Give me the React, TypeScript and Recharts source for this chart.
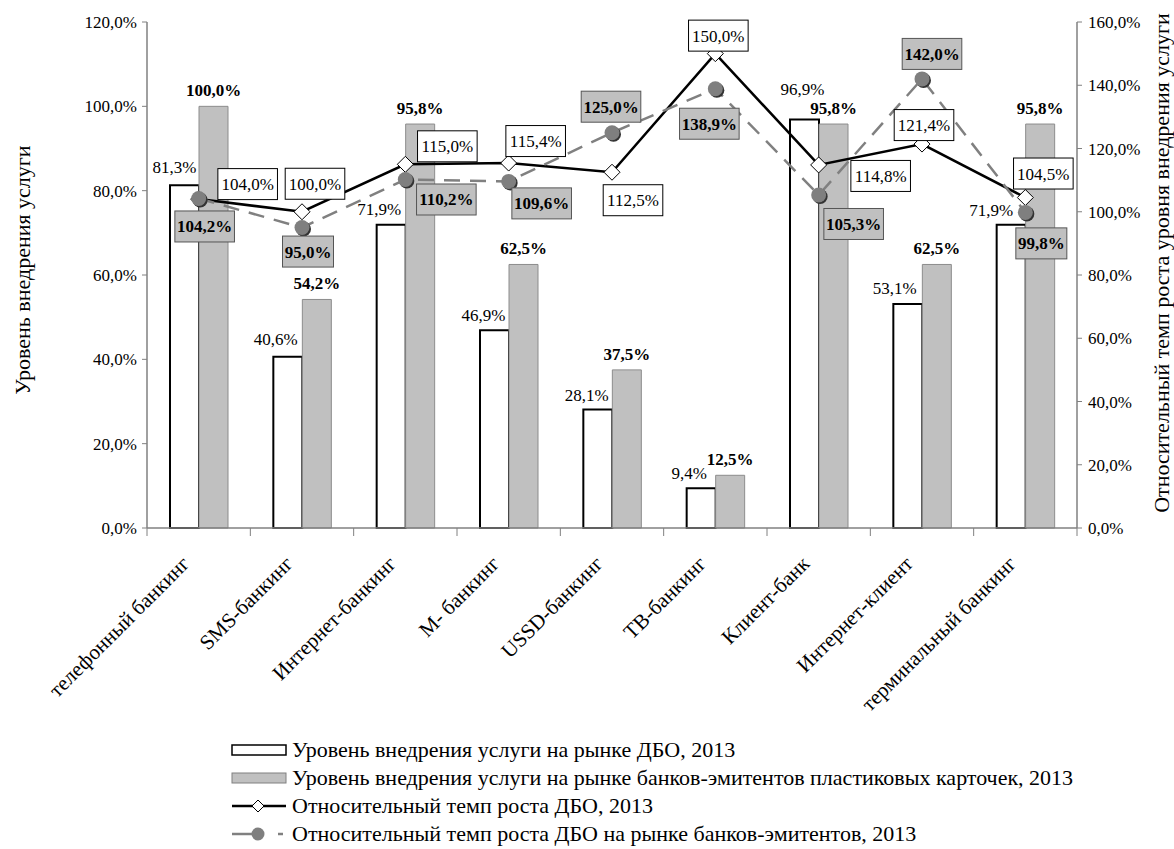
import React from 'react';
import { ComposedChart, Bar, Line, XAxis, YAxis, LabelList } from 'recharts';

const categories = [
  'телефонный банкинг',
  'SMS-банкинг',
  'Интернет-банкинг',
  'М- банкинг',
  'USSD-банкинг',
  'ТВ-банкинг',
  'Клиент-банк',
  'Интернет-клиент',
  'терминальный банкинг',
];
const marketLevel = [81.3, 40.6, 71.9, 46.9, 28.1, 9.4, 96.9, 53.1, 71.9];
const issuerLevel = [100.0, 54.2, 95.8, 62.5, 37.5, 12.5, 95.8, 62.5, 95.8];
const marketGrowth = [104.0, 100.0, 115.0, 115.4, 112.5, 150.0, 114.8, 121.4, 104.5];
const issuerGrowth = [104.2, 95.0, 110.2, 109.6, 125.0, 138.9, 105.3, 142.0, 99.8];
const leftTicks = [0, 20, 40, 60, 80, 100, 120];
const rightTicks = [0, 20, 40, 60, 80, 100, 120, 140, 160];

// label placement (dx, dy) relative to the mark
const marketLabelPos = [
  [-10, -12], [-12, -12], [-12, -10], [-11, -9], [-11, -9], [-12, -9], [-2, -24], [-13, -10], [-20, -9],
];
const marketGrowthLabelPos = [
  [49, -15], [13, -28], [42, -18], [27, -22], [21, 28], [3, -18], [62, 11], [2, -19], [18, -24],
];
const issuerGrowthLabelPos = [
  [6, 28], [6, 24], [41, 20], [33, 22], [-1, -26], [-6, 35], [35, 29], [10, -25], [16, 31],
];

const data = categories.map((name, i) => ({
  name,
  market: marketLevel[i],
  issuer: issuerLevel[i],
  marketGrowth: marketGrowth[i],
  issuerGrowth: issuerGrowth[i],
}));

const FONT = 'Liberation Serif, serif';
const W = 1174;
const H = 849;
const PLOT_LEFT = 147;
const PLOT_RIGHT = 1077;
const PLOT_TOP = 22;
const PLOT_BOTTOM = 528;
const BAND = (PLOT_RIGHT - PLOT_LEFT) / categories.length;

const pct = (v: number) => v.toFixed(1).replace('.', ',') + '%';

const XTick = (props: any) => {
  const { x, y, payload, index } = props;
  const left = x - BAND / 2;
  const ax = x - 8;
  const ay = y + 37;
  return (
    <g>
      <line x1={left} y1={y} x2={left} y2={y + 8} stroke="#808080" />
      {index === categories.length - 1 && (
        <line x1={x + BAND / 2} y1={y} x2={x + BAND / 2} y2={y + 8} stroke="#808080" />
      )}
      <text
        x={ax}
        y={ay}
        textAnchor="end"
        transform={`rotate(-45, ${ax}, ${ay})`}
        style={{ fontFamily: FONT }}
        fontSize={21}
        fill="#000"
      >
        {payload.value}
      </text>
    </g>
  );
};

const Diamond = (props: any) => {
  const { cx, cy } = props;
  if (cx == null || cy == null) return null;
  const s = 8;
  return (
    <polygon
      points={`${cx},${cy - s} ${cx + s},${cy} ${cx},${cy + s} ${cx - s},${cy}`}
      fill="#fff"
      stroke="#000"
      strokeWidth={1}
    />
  );
};

const GrayDot = (props: any) => {
  const { cx, cy } = props;
  if (cx == null || cy == null) return null;
  return (
    <g>
      <circle cx={cx + 1.5} cy={cy + 1.5} r={7.5} fill="#333" />
      <circle cx={cx} cy={cy} r={7.5} fill="#7f7f7f" />
    </g>
  );
};

const boxLabel = (positions: number[][], gray: boolean) => (props: any) => {
  const { x, y, value, index } = props;
  const [dx, dy] = positions[index];
  const text = pct(value);
  const w = text.length * 8.6 + 8;
  const h = 31;
  const cx = x + dx;
  const cy = y + dy;
  return (
    <g>
      <rect
        x={cx - w / 2}
        y={cy - h / 2}
        width={w}
        height={h}
        fill={gray ? '#c0c0c0' : '#fff'}
        stroke={gray ? '#555' : '#000'}
        strokeWidth={1}
      />
      <text
        x={cx}
        y={cy + 6}
        textAnchor="middle"
        style={{ fontFamily: FONT }}
        fontSize={17}
        fontWeight={gray ? 'bold' : 'normal'}
        fill="#000"
      >
        {text}
      </text>
    </g>
  );
};

const barLabel = (bold: boolean, positions: number[][] | null) => (props: any) => {
  const { x, y, width, value, index } = props;
  const [dx, dy] = positions ? positions[index] : [0, -10];
  return (
    <text
      x={x + width / 2 + dx}
      y={y + dy}
      textAnchor="middle"
      style={{ fontFamily: FONT }}
      fontSize={17}
      fontWeight={bold ? 'bold' : 'normal'}
      fill="#000"
    >
      {pct(value)}
    </text>
  );
};

const legendItems = [
  { kind: 'white', text: 'Уровень внедрения услуги на рынке ДБО, 2013' },
  { kind: 'gray', text: 'Уровень внедрения услуги на рынке банков-эмитентов пластиковых карточек, 2013' },
  { kind: 'black', text: 'Относительный темп роста ДБО, 2013' },
  { kind: 'dash', text: 'Относительный темп роста ДБО на рынке банков-эмитентов, 2013' },
];

const Overlay = () => (
  <svg
    width={W}
    height={H}
    style={{ position: 'absolute', left: 0, top: 0, pointerEvents: 'none', fontFamily: FONT }}
  >
    <text
      x={30}
      y={270}
      textAnchor="middle"
      transform="rotate(-90, 30, 270)"
      fontSize={22}
      fill="#000"
    >
      Уровень внедрения услуги
    </text>
    <text
      x={1169}
      y={263}
      textAnchor="middle"
      transform="rotate(-90, 1169, 263)"
      fontSize={22}
      fill="#000"
    >
      Относительный темп роста уровня внедрения услуги
    </text>
    {legendItems.map((item, i) => {
      const cy = 750 + i * 28;
      return (
        <g key={item.kind}>
          {item.kind === 'white' && (
            <rect x={232} y={cy - 5} width={54} height={10} fill="#fff" stroke="#000" strokeWidth={1.5} />
          )}
          {item.kind === 'gray' && (
            <rect x={232} y={cy - 5} width={54} height={10} fill="#c0c0c0" stroke="#808080" strokeWidth={1} />
          )}
          {item.kind === 'black' && (
            <g>
              <line x1={232} y1={cy} x2={286} y2={cy} stroke="#000" strokeWidth={2.5} />
              <polygon
                points={`258,${cy - 6} 264,${cy} 258,${cy + 6} 252,${cy}`}
                fill="#fff"
                stroke="#000"
              />
            </g>
          )}
          {item.kind === 'dash' && (
            <g>
              <line x1={232} y1={cy} x2={252} y2={cy} stroke="#808080" strokeWidth={2.5} />
              <circle cx={258} cy={cy} r={6.5} fill="#7f7f7f" />
              <line x1={278} y1={cy} x2={283} y2={cy} stroke="#808080" strokeWidth={2.5} />
            </g>
          )}
          <text x={292} y={cy + 7} fontSize={22} fill="#000">
            {item.text}
          </text>
        </g>
      );
    })}
  </svg>
);

export default function App() {
  return (
    <div style={{ position: 'absolute', left: 0, top: 0, width: W, height: H, background: '#fff', fontFamily: FONT }}>
      <ComposedChart
        width={W}
        height={H}
        data={data}
        margin={{ top: PLOT_TOP, left: PLOT_LEFT - 80, right: W - PLOT_RIGHT - 80, bottom: H - PLOT_BOTTOM - 200 }}
        barGap={0}
        style={{ fontFamily: FONT }}
      >
        <XAxis
          dataKey="name"
          height={200}
          interval={0}
          tickLine={false}
          tickSize={0}
          tickMargin={0}
          tick={<XTick />}
          axisLine={{ stroke: '#808080', strokeWidth: 1.5 }}
        />
        <YAxis
          yAxisId="left"
          width={80}
          domain={[0, 120]}
          ticks={leftTicks}
          tickFormatter={pct}
          tickSize={5}
          tickMargin={5}
          axisLine={{ stroke: '#808080', strokeWidth: 1.5 }}
          tickLine={{ stroke: '#808080' }}
          tick={{ fontFamily: FONT, fontSize: 17, fill: '#000' }}
        />
        <YAxis
          yAxisId="right"
          orientation="right"
          width={80}
          domain={[0, 160]}
          ticks={rightTicks}
          tickFormatter={pct}
          tickSize={5}
          tickMargin={6}
          axisLine={{ stroke: '#808080', strokeWidth: 1.5 }}
          tickLine={{ stroke: '#808080' }}
          tick={{ fontFamily: FONT, fontSize: 17, fill: '#000' }}
        />
        <Bar
          yAxisId="left"
          dataKey="market"
          barSize={29}
          fill="#fff"
          stroke="#000"
          strokeWidth={2}
          isAnimationActive={false}
        >
          <LabelList dataKey="market" content={barLabel(false, marketLabelPos)} />
        </Bar>
        <Bar
          yAxisId="left"
          dataKey="issuer"
          barSize={29}
          fill="#c0c0c0"
          stroke="#8c8c8c"
          strokeWidth={1}
          isAnimationActive={false}
        >
          <LabelList dataKey="issuer" content={barLabel(true, null)} />
        </Bar>
        <Line
          yAxisId="right"
          dataKey="marketGrowth"
          stroke="#000"
          strokeWidth={2.5}
          dot={<Diamond />}
          activeDot={false}
          isAnimationActive={false}
        >
          <LabelList dataKey="marketGrowth" content={boxLabel(marketGrowthLabelPos, false)} />
        </Line>
        <Line
          yAxisId="right"
          dataKey="issuerGrowth"
          stroke="#808080"
          strokeWidth={2.5}
          strokeDasharray="16 10"
          dot={<GrayDot />}
          activeDot={false}
          isAnimationActive={false}
        >
          <LabelList dataKey="issuerGrowth" content={boxLabel(issuerGrowthLabelPos, true)} />
        </Line>
      </ComposedChart>
      <Overlay />
    </div>
  );
}
